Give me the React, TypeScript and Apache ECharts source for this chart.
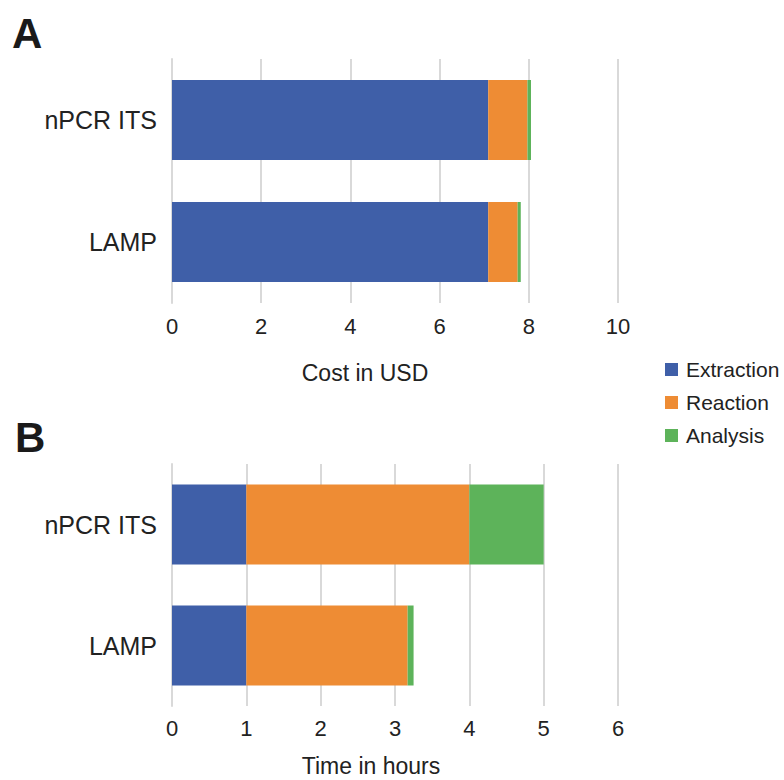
import React, { useEffect, useRef } from "react";
import * as echarts from "echarts";

const categories = ["nPCR ITS", "LAMP"];
const seriesNames = ["Extraction", "Reaction", "Analysis"];
const colors = ["#3f5fa8", "#ee8c34", "#5db35a"];

const costExtraction = [7.09, 7.09];
const costReaction = [0.88, 0.66];
const costAnalysis = [0.08, 0.07];

const timeExtraction = [1, 1];
const timeReaction = [3, 2.17];
const timeAnalysis = [1, 0.08];

const costTicks = { min: 0, max: 10, interval: 2 };
const timeTicks = { min: 0, max: 6, interval: 1 };

const FONT = "'Liberation Sans', Arial, sans-serif";

export default function App() {
  const ref = useRef<HTMLDivElement>(null);
  useEffect(() => {
    if (!ref.current) return;
    const chart = echarts.init(ref.current, undefined, { renderer: "svg" });
    const grid = "#d9d9d9";
    const mkX = (idx: number, t: any, margin: number) => ({
      type: "value",
      gridIndex: idx,
      min: t.min,
      max: t.max,
      interval: t.interval,
      axisLine: { show: false },
      axisTick: { show: false },
      splitLine: { show: true, lineStyle: { color: grid, width: 2 } },
      axisLabel: { fontSize: 22, color: "#222", fontFamily: FONT, margin },
    });
    const mkY = (idx: number) => ({
      type: "category",
      gridIndex: idx,
      data: categories,
      inverse: true,
      axisLine: { show: true, lineStyle: { color: grid, width: 2 } },
      axisTick: { show: false },
      axisLabel: { fontSize: 25, color: "#222", fontFamily: FONT, margin: 15 },
    });
    const costData = [costExtraction, costReaction, costAnalysis];
    const timeData = [timeExtraction, timeReaction, timeAnalysis];
    const series: any[] = [];
    seriesNames.forEach((n, i) => {
      series.push({
        name: n,
        type: "bar",
        stack: "cost",
        xAxisIndex: 0,
        yAxisIndex: 0,
        barWidth: 80,
        itemStyle: { color: colors[i] },
        data: costData[i],
      });
    });
    seriesNames.forEach((n, i) => {
      series.push({
        name: n,
        type: "bar",
        stack: "time",
        xAxisIndex: 1,
        yAxisIndex: 1,
        barWidth: 80,
        itemStyle: { color: colors[i] },
        data: timeData[i],
      });
    });
    chart.setOption({
      animation: false,
      backgroundColor: "#ffffff",
      textStyle: { fontFamily: FONT },
      grid: [
        { left: 172, top: 59, width: 446, height: 244 },
        { left: 172, top: 464, width: 446, height: 242 },
      ],
      xAxis: [mkX(0, costTicks, 12), mkX(1, timeTicks, 11)],
      yAxis: [mkY(0), mkY(1)],
      legend: {
        orient: "vertical",
        left: 660,
        top: 354,
        itemWidth: 13,
        itemHeight: 13,
        itemGap: 12,
        icon: "rect",
        data: seriesNames,
        textStyle: { fontSize: 21, color: "#222", fontFamily: FONT, padding: [0, 0, 0, 3] },
      },
      graphic: [
        { type: "text", left: 12, top: 12, style: { text: "A", fontSize: 42, fontWeight: "bold", fill: "#1a1a1a", fontFamily: FONT } },
        { type: "text", left: 15, top: 416, style: { text: "B", fontSize: 42, fontWeight: "bold", fill: "#1a1a1a", fontFamily: FONT } },
        { type: "text", x: 365, y: 373, style: { text: "Cost in USD", fontSize: 23, fill: "#222", fontFamily: FONT, textAlign: "center", textVerticalAlign: "middle" } },
        { type: "text", x: 371, y: 766, style: { text: "Time in hours", fontSize: 23, fill: "#222", fontFamily: FONT, textAlign: "center", textVerticalAlign: "middle" } },
      ],
      series,
    });
    return () => chart.dispose();
  }, []);
  return (
    <div
      ref={ref}
      style={{ position: "fixed", left: 0, top: 0, width: 784, height: 780, background: "#fff" }}
    />
  );
}
